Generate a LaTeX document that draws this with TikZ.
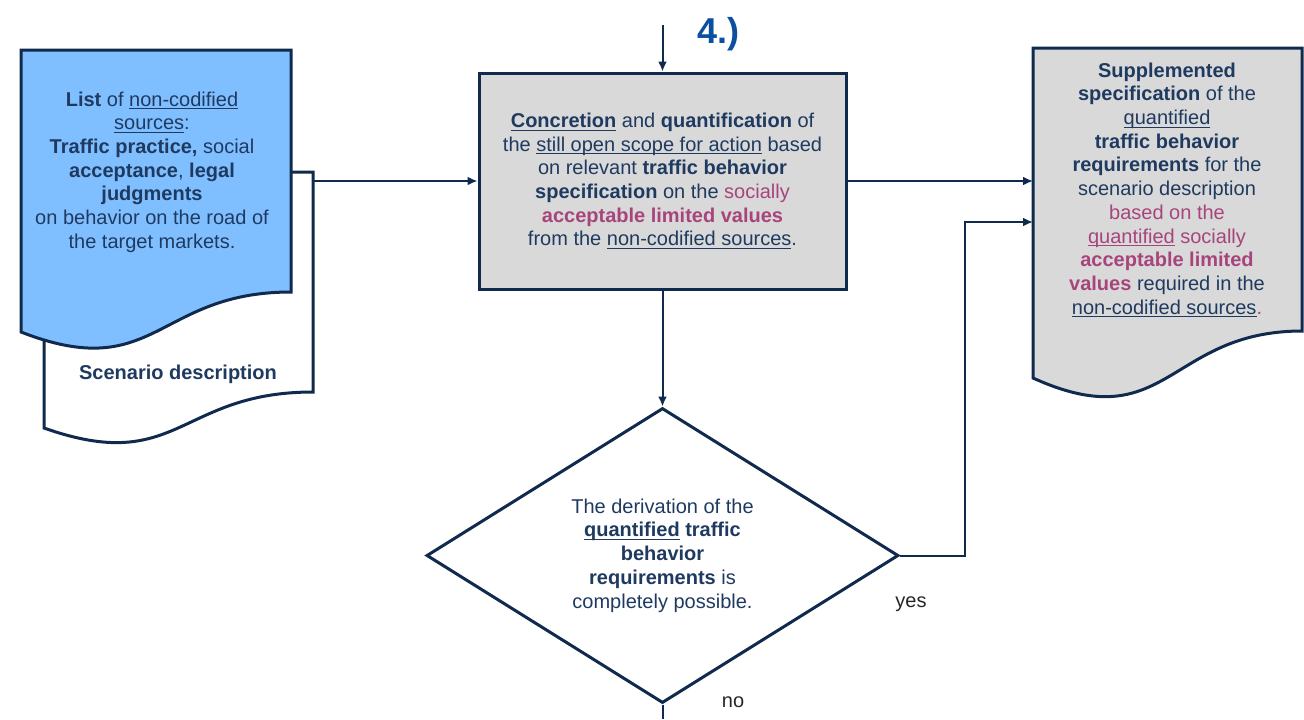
\documentclass[tikz,border=0pt]{standalone}
\usepackage{fontspec}
\setmainfont{Liberation Sans}
\usetikzlibrary{arrows.meta,shapes.geometric}
\definecolor{ln}{HTML}{0F2A4D}
\definecolor{tx}{HTML}{1F3A60}
\definecolor{mg}{HTML}{A8447C}
\definecolor{bl}{HTML}{80BFFF}
\definecolor{gr}{HTML}{D9D9D9}
\definecolor{hd}{HTML}{0B4F9F}
\newcommand{\myul}[1]{\leavevmode\setbox0\hbox{#1}\rlap{\rule[-1.6pt]{\wd0}{0.5pt}}\box0\relax}
\begin{document}
\begin{tikzpicture}[x=0.5pt,y=-0.5pt,
 shapeline/.style={draw=ln,line width=1.5pt,line join=miter},
 conn/.style={draw=ln,line width=1pt,-{Latex[length=5pt,width=4.5pt]}},
 wire/.style={draw=ln,line width=1pt},
 txt/.style={text=tx,align=center,font=\fontsize{10pt}{11.85pt}\selectfont,inner sep=0pt},
 lbl/.style={text=black!85,font=\fontsize{10pt}{12pt}\selectfont,inner sep=0pt,anchor=base}
 ]
\useasboundingbox (0,0) rectangle (1304,719);
% documents
\draw[shapeline,fill=white] (44,172) -- (313,172) -- (313,392) .. controls (178.5,392) and (178.5,475.5) .. (44,428) -- cycle;
\draw[shapeline,fill=bl] (21,50) -- (291,50) -- (291,292) .. controls (156,292) and (156,384.5) .. (21,332) -- cycle;
\draw[shapeline,fill=gr] (1033,48) -- (1302,48) -- (1302,331) .. controls (1167.5,331) and (1167.5,439) .. (1033,378) -- cycle;
% texts of documents
\node[txt] (srclist) at (152,172) {\textbf{List} of \myul{non-codified}\\ \myul{sources}:\\ \textbf{Traffic practice,} social\\ \textbf{acceptance}, \textbf{legal}\\ \textbf{judgments}\\ on behavior on the road of\\ the target markets.};
\node[txt,font=\bfseries\fontsize{10pt}{12pt}\selectfont] (scen) at (178,374) {Scenario description};
\node[txt] (result) at (1167,190) {\textbf{Supplemented}\\ \textbf{specification} of the\\ \myul{quantified}\\ \textbf{traffic behavior}\\ \textbf{requirements} for the\\ scenario description\\ \textcolor{mg}{based on the}\\ \textcolor{mg}{\myul{quantified} socially}\\ \textcolor{mg}{\textbf{acceptable limited}}\\ \textcolor{mg}{\textbf{values}} required in the\\ \myul{non-codified sources}\textcolor{mg}{.}};
% process box
\node[txt,shapeline,fill=gr,minimum width=183.5pt,minimum height=108pt] (proc) at (662.5,181) {\myul{\textbf{Concretion}} and \textbf{quantification} of\\ the \myul{still open scope for action} based\\ on relevant \textbf{traffic behavior}\\ \textbf{specification} on the \textcolor{mg}{socially}\\ \textcolor{mg}{\textbf{acceptable limited values}}\\ from the \myul{non-codified sources}.};
% decision
\node[txt,shapeline,diamond,aspect=1.6,minimum width=236pt,minimum height=147.5pt] (dec) at (662.5,555.5) {The derivation of the\\ \myul{\textbf{quantified}} \textbf{traffic}\\ \textbf{behavior}\\ \textbf{requirements} is\\ completely possible.};
% step label
\node[text=hd,font=\bfseries\fontsize{18pt}{20pt}\selectfont,inner sep=0pt,anchor=base] (step) at (718,43) {4.)};
\node[lbl] (yeslbl) at (911,607) {yes};
\node[lbl] (nolbl) at (733,707) {no};
% coordinates
\coordinate (topin) at (662.5,25);
\coordinate (backR) at (313,181);
\coordinate (resL1) at (1033,181);
\coordinate (resL2) at (1033,222);
\coordinate (yesbend) at (965,555.5);
\coordinate (noend) at (662.5,719);
% connectors
\draw[conn] (topin) -- (proc.north);
\draw[conn] (backR) -- (proc.west);
\draw[conn] (proc.east) -- (resL1);
\draw[conn] (proc.south) -- (dec.north);
\draw[conn] (dec.east) -- (yesbend) |- (resL2);
\draw[wire] (dec.south) -- (noend);
\end{tikzpicture}
\end{document}
